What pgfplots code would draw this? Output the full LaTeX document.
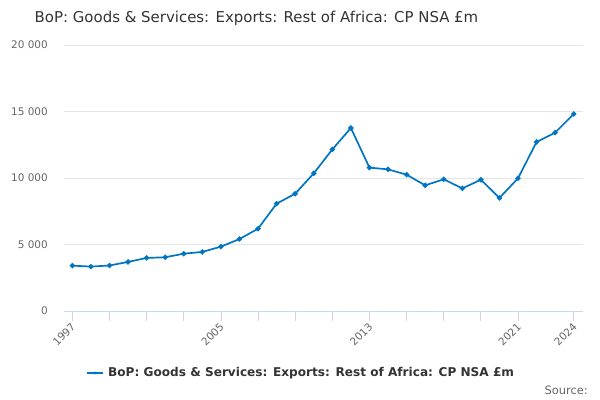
\documentclass[border=0pt]{standalone}
\usepackage{pgfplots}
\pgfplotsset{compat=1.18}
\usepackage{fontspec}
\setmainfont{DejaVu Sans}
\definecolor{lineblue}{RGB}{0,118,194}
\definecolor{axcol}{RGB}{204,214,235}
\definecolor{gridcol}{RGB}{230,230,230}
\definecolor{ticklab}{RGB}{102,102,102}
\definecolor{titlecol}{RGB}{51,51,51}
\begin{document}
\begin{tikzpicture}
\useasboundingbox (0bp,0bp) rectangle (600bp,400bp);
\begin{axis}[
  at={(64bp,89bp)}, anchor=south west,
  scale only axis, width=519bp, height=266bp,
  xmin=1996.55, xmax=2024.5, ymin=0, ymax=20000,
  scaled y ticks=false,
  axis x line*=bottom, axis y line*=left,
  x axis line style={draw=axcol, line width=0.8bp, -},
  y axis line style={draw=none},
  xtick={1997,2005,2013,2021,2024},
  xticklabels={1997,2005,2013,2021,2024},
  minor xtick={1999,2001,2003,2007,2009,2011,2015,2017,2019},
  xtick style={draw=axcol, line width=0.8bp},
  xtick align=outside, major tick length=10bp, minor tick length=10bp,
  ytick={0,5000,10000,15000,20000},
  yticklabels={0,5 000,10 000,15 000,20 000},
  ytick style={draw=none},
  ymajorgrids, grid style={draw=gridcol, line width=0.8bp},
  tick label style={font=\fontsize{10.5}{12}\selectfont, text=ticklab},
  x tick label style={rotate=45, anchor=east, inner sep=0pt, xshift=-2bp, yshift=-3.7bp},
  y tick label style={anchor=east, inner sep=0pt, xshift=-16bp},
  clip=false,
]
\addplot[lineblue, line width=1.7bp, mark=*, mark size=1.7bp] coordinates {
(1997,3410) (1998,3340) (1999,3420) (2000,3690) (2001,3990) (2002,4040)
(2003,4310) (2004,4440) (2005,4840) (2006,5410) (2007,6190) (2008,8070)
(2009,8820) (2010,10350) (2011,12150) (2012,13760) (2013,10780) (2014,10650)
(2015,10250) (2016,9450) (2017,9900) (2018,9220) (2019,9870) (2020,8500)
(2021,9980) (2022,12710) (2023,13410) (2024,14810)
};
\end{axis}
\node[anchor=center, inner sep=0pt, font=\fontsize{15}{17}\selectfont, text=titlecol] at (256.5bp,382bp) {BoP: Goods \& Services: Exports: Rest of Africa: CP NSA £m};
\draw[lineblue, line width=1.7bp] (87bp,27bp) -- (103bp,27bp);
\fill[lineblue] (95bp,27bp) circle (1.7bp);
\node[anchor=west, inner sep=0pt, font=\fontsize{12.15}{14}\selectfont\bfseries, text=titlecol] at (108bp,27bp) {BoP: Goods \& Services: Exports: Rest of Africa: CP NSA £m};
\node[anchor=east, inner sep=0pt, font=\fontsize{11.5}{13}\selectfont, text=ticklab] at (588bp,10bp) {Source:};
\end{tikzpicture}
\end{document}
